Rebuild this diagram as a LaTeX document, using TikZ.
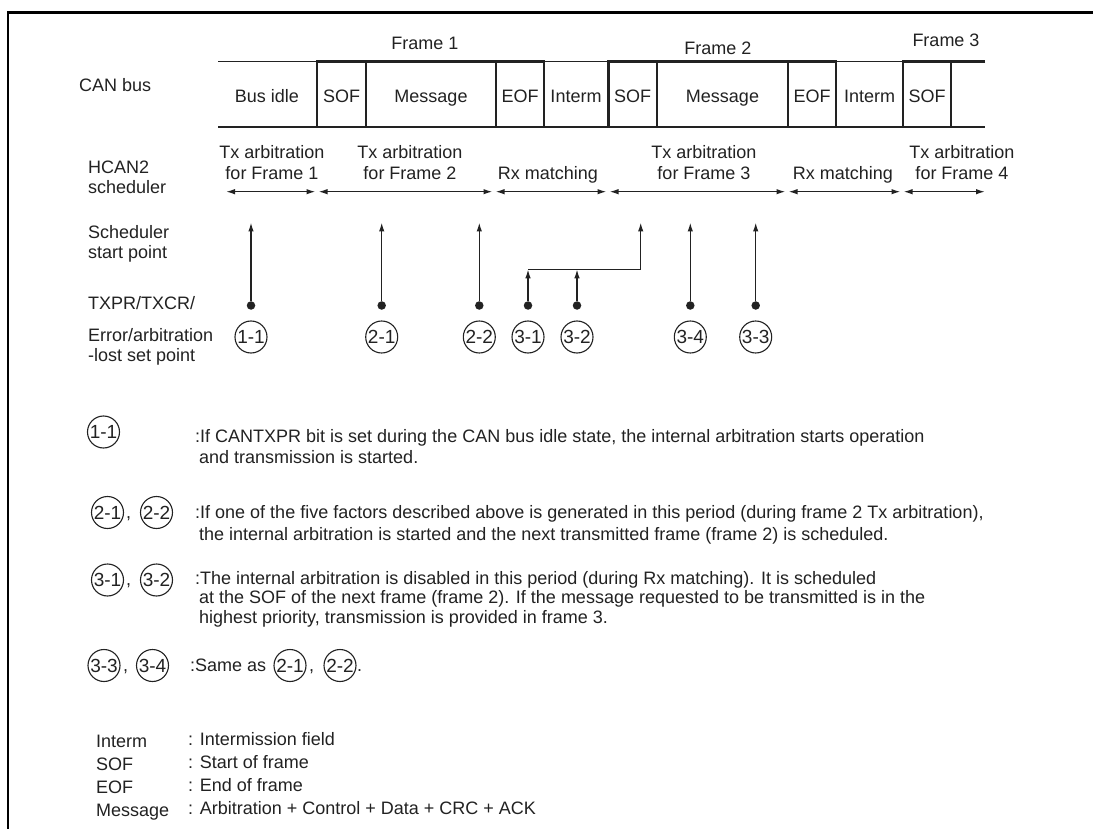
\documentclass[tikz,border=0pt]{standalone}
\usepackage{fontspec}
\setmainfont{Liberation Sans}
\usetikzlibrary{arrows.meta}
\definecolor{ink}{HTML}{222222}
\begin{document}
\begin{tikzpicture}[x=1pt,y=-1pt,
  txt/.style={font=\fontsize{18}{21}\selectfont, text=ink, inner sep=0pt},
  lft/.style={txt, anchor=base west},
  mid/.style={txt, anchor=base},
  cnum/.style={circle, draw=ink, line width=1.1pt, minimum size=32pt, inner sep=0pt, font=\fontsize{19}{19}\selectfont, text=ink},
  dotn/.style={circle, fill=ink, minimum size=8.5pt, inner sep=0pt},
  varrow/.style={draw=ink, line width=1.4pt, -{Latex[length=9pt,width=5.5pt]}},
  harrow/.style={draw=ink, line width=1.4pt, {Latex[length=9pt,width=5.5pt]}-{Latex[length=9pt,width=5.5pt]}},
  plain/.style={draw=ink, line width=1.4pt},
  busthin/.style={draw=ink, line width=1.2pt},
  busthick/.style={draw=ink, line width=2.6pt},
]
\useasboundingbox (0,0) rectangle (1093,829);
\fill[white] (0,0) rectangle (1093,829);
% outer frame
\draw[line width=2.6pt, draw=black] (8,829) -- (8,12.5) -- (1093,12.5);

% ---------- CAN bus ----------
\draw[busthin] (218,61.5) -- (985,61.5);
\draw[busthin] (218,127) -- (985,127);
\draw[busthick] (317,61.5) rectangle (544,127);
\draw[busthick] (608.5,61.5) rectangle (836,127);
\draw[busthick] (985,61.5) -- (903,61.5) -- (903,127) -- (985,127);
\foreach \xx in {366,496,657,788,951} \draw[busthin] (\xx,61.5) -- (\xx,127);

\node[mid] (f1) at (425,50) {Frame 1};
\node[mid] (f2) at (718,55) {Frame 2};
\node[mid] (f3) at (946,46.5) {Frame 3};

\node[mid] (idle) at (267,103) {Bus idle};
\node[mid] (sof1) at (341.5,103) {SOF};
\node[mid] (msg1) at (431,103) {Message};
\node[mid] (eof1) at (520,103) {EOF};
\node[mid] (int1) at (576,103) {Interm};
\node[mid] (sof2) at (632.5,103) {SOF};
\node[mid] (msg2) at (722.5,103) {Message};
\node[mid] (eof2) at (812,103) {EOF};
\node[mid] (int2) at (869.5,103) {Interm};
\node[mid] (sof3) at (927,103) {SOF};

% ---------- left labels ----------
\node[lft] (lcan) at (79,92) {CAN bus};
\node[lft] (lh1) at (88,173.3) {HCAN2};
\node[lft] (lh2) at (88,193.3) {scheduler};
\node[lft] (ls1) at (88,238.3) {Scheduler};
\node[lft] (ls2) at (88,258.3) {start point};
\node[lft] (lt1) at (88,309.3) {TXPR/TXCR/};
\node[lft] (le1) at (88,341.7) {Error/arbitration};
\node[lft] (le2) at (88,361.7) {-lost set point};

% ---------- scheduler periods ----------
\node[mid] (p1a) at (272,158.3) {Tx arbitration};
\node[mid] (p1b) at (272,180) {for Frame 1};
\node[mid] (p2a) at (410,158.3) {Tx arbitration};
\node[mid] (p2b) at (410,180) {for Frame 2};
\node[mid] (p3) at (548,180) {Rx matching};
\node[mid] (p4a) at (704,158.3) {Tx arbitration};
\node[mid] (p4b) at (704,180) {for Frame 3};
\node[mid] (p5) at (843,180) {Rx matching};
\node[mid] (p6a) at (962,158.3) {Tx arbitration};
\node[mid] (p6b) at (962,180) {for Frame 4};

\coordinate (h0r) at (226,191.7);
\coordinate (h1l) at (315.5,191.7); \coordinate (h1r) at (318.5,191.7);
\coordinate (h2l) at (492.5,191.7); \coordinate (h2r) at (495.5,191.7);
\coordinate (h3l) at (606.5,191.7); \coordinate (h3r) at (609.5,191.7);
\coordinate (h4l) at (785.5,191.7); \coordinate (h4r) at (788.5,191.7);
\coordinate (h5l) at (900.5,191.7); \coordinate (h5r) at (903.5,191.7);
\coordinate (h6l) at (985,191.7);
\draw[harrow] (h0r) -- (h1l);
\draw[harrow] (h1r) -- (h2l);
\draw[harrow] (h2r) -- (h3l);
\draw[harrow] (h3r) -- (h4l);
\draw[harrow] (h4r) -- (h5l);
\draw[harrow] (h5r) -- (h6l);

% ---------- set points ----------
\node[dotn] (d11) at (251,305.5) {};
\node[dotn] (d21) at (381.7,305.5) {};
\node[dotn] (d22) at (479.3,305.5) {};
\node[dotn] (d31) at (528,305.5) {};
\node[dotn] (d32) at (577,305.5) {};
\node[dotn] (d34) at (690.3,305.5) {};
\node[dotn] (d33) at (755.7,305.5) {};

\coordinate (s11) at (251,222.5);
\coordinate (s21) at (381.7,222.5);
\coordinate (s22) at (479.3,222.5);
\coordinate (s3x) at (640.7,222.5);
\coordinate (s34) at (690.3,222.5);
\coordinate (s33) at (755.7,222.5);
\coordinate (j31) at (528,269.3);
\coordinate (j32) at (577,269.3);
\coordinate (jc) at (640.7,269.3);

\draw[varrow] (d11) -- (s11);
\draw[varrow] (d21) -- (s21);
\draw[varrow] (d22) -- (s22);
\draw[varrow] (d34) -- (s34);
\draw[varrow] (d33) -- (s33);
\draw[varrow] (d31) -- (j31);
\draw[varrow] (d32) -- (j32);
\draw[plain] (j31) -- (jc);
\draw[varrow] (jc) -- (s3x);

\node[cnum] (c11) at (251,337) {1-1};
\node[cnum] (c21) at (381.7,337) {2-1};
\node[cnum] (c22) at (479.3,337) {2-2};
\node[cnum] (c31) at (528,337) {3-1};
\node[cnum] (c32) at (577,337) {3-2};
\node[cnum] (c34) at (690.3,337) {3-4};
\node[cnum] (c33) at (755.7,337) {3-3};

% ---------- notes ----------
\node[cnum] (n11) at (103.5,432) {1-1};
\node[lft] (t1a) at (195,442) {:If CANTXPR bit is set during the CAN bus idle state, the internal arbitration starts operation};
\node[lft] (t1b) at (199,463.5) {and transmission is started.};

\node[cnum] (n21) at (107.5,512.5) {2-1};
\node[lft] (cm2) at (126,518.5) {,};
\node[cnum] (n22) at (156.5,512.5) {2-2};
\node[lft] (t2a) at (195,518.5) {:If one of the five factors described above is generated in this period (during frame 2 Tx arbitration),};
\node[lft] (t2b) at (199,540) {the internal arbitration is started and the next transmitted frame (frame 2) is scheduled.};

\node[cnum] (n31) at (107.5,580) {3-1};
\node[lft] (cm3) at (126,585) {,};
\node[cnum] (n32) at (156.5,580) {3-2};
\node[lft] (t3a) at (195,584) {:The internal arbitration is disabled in this period (during Rx matching). It is scheduled};
\node[lft] (t3b) at (199,603.5) {at the SOF of the next frame (frame 2). If the message requested to be transmitted is in the};
\node[lft] (t3c) at (199,623) {highest priority, transmission is provided in frame 3.};

\node[cnum] (n33) at (104,665.5) {3-3};
\node[lft] (cm4) at (123,671.5) {,};
\node[cnum] (n34) at (152.5,665.5) {3-4};
\node[lft] (t4a) at (190,671.5) {:Same as};
\node[cnum] (n21b) at (290,665.5) {2-1};
\node[lft] (cm5) at (309,671.5) {,};
\node[cnum] (n22b) at (340,665.5) {2-2};
\node[lft] (dot5) at (357,671.5) {.};

% ---------- legend ----------
\node[lft] (g1) at (96,747) {Interm};
\node[lft] (g2) at (96,770) {SOF};
\node[lft] (g3) at (96,793) {EOF};
\node[lft] (g4) at (96,816) {Message};
\node[lft] (g1d) at (188,745) {: Intermission field};
\node[lft] (g2d) at (188,768) {: Start of frame};
\node[lft] (g3d) at (188,791) {: End of frame};
\node[lft] (g4d) at (188,814) {: Arbitration + Control + Data + CRC + ACK};
\end{tikzpicture}
\end{document}
